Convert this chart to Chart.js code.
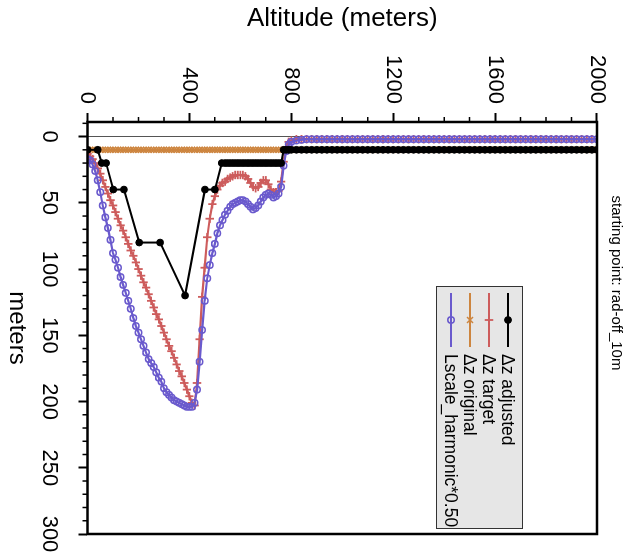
<!DOCTYPE html>
<html>
<head>
<meta charset="utf-8">
<script src="https://cdn.jsdelivr.net/npm/chart.js@4.4.1/dist/chart.umd.min.js"></script>
<style>
  html, body { margin: 0; padding: 0; background: #fff; overflow: hidden; }
  /* the chart is drawn upright and turned a quarter turn clockwise */
  #wrap { position: absolute; left: 0; top: 0; width: 555px; height: 632px;
          transform-origin: 0 0; transform: translate(632px, 0) rotate(90deg); }
</style>
</head>
<body>
<div id="wrap"><canvas id="chart" width="555" height="632"></canvas></div>
<script>
// altitude levels (m) shared by the target / original / Lscale series
const altitude = [
  0, 10, 20, 30, 40, 50, 60, 70, 80, 90,
  100, 110, 120, 130, 140, 150, 160, 170, 180, 190,
  200, 210, 220, 230, 240, 250, 260, 270, 280, 290,
  300, 310, 320, 330, 340, 350, 360, 370, 380, 390,
  400, 410, 420, 430, 440, 450, 460, 470, 480, 490,
  500, 510, 520, 530, 540, 550, 560, 570, 580, 590,
  600, 610, 620, 630, 640, 650, 660, 670, 680, 690,
  700, 710, 720, 730, 740, 750, 760, 770, 780, 790,
  800,
  820, 840, 860, 880, 900, 920, 940, 960, 980, 1000,
  1020, 1040, 1060, 1080, 1100, 1120, 1140, 1160, 1180, 1200,
  1220, 1240, 1260, 1280, 1300, 1320, 1340, 1360, 1380, 1400,
  1420, 1440, 1460, 1480, 1500, 1520, 1540, 1560, 1580, 1600,
  1620, 1640, 1660, 1680, 1700, 1720, 1740, 1760, 1780, 1800,
  1820, 1840, 1860, 1880, 1900, 1920, 1940, 1960, 1980, 2000
];

// Lscale_harmonic*0.50
const lscale = [
  17, 18, 21, 26, 33, 42, 52, 61, 69, 78,
  88, 93, 99, 106, 112, 118, 124, 130, 137, 143,
  148, 153, 158, 163, 168, 171, 174, 178, 182, 185,
  190, 193, 195, 197, 199, 200, 201, 202, 203, 204,
  204, 204, 201, 191, 170, 146, 124, 107, 97, 88,
  81, 73, 67, 63, 59, 56, 53, 51, 50, 49,
  48, 48, 49, 51, 53, 55, 54, 52, 49, 46,
  44, 43, 44, 46, 45, 43, 38, 22, 11, 6,
  4,
  3, 2.5, 2, 2, 2, 2, 2, 2, 2, 2,
  2, 2, 2, 2, 2, 2, 2, 2, 2, 2,
  2, 2, 2, 2, 2, 2, 2, 2, 2, 2,
  2, 2, 2, 2, 2, 2, 2, 2, 2, 2,
  2, 2, 2, 2, 2, 2, 2, 2, 2, 2,
  2, 2, 2, 2, 2, 2, 2, 2, 2, 2
];

// dz target
const dzTarget = [
  13, 15, 17, 20, 24, 28, 33, 38, 43, 48,
  52, 57, 62, 67, 71, 76, 81, 86, 90, 95,
  100, 105, 110, 114, 119, 124, 129, 134, 138, 143,
  148, 153, 158, 162, 167, 172, 177, 181, 186, 191,
  196, 201, 203, 186, 153, 121, 99, 76, 62, 51,
  45, 40, 37, 35, 34, 32, 31, 30, 29, 29,
  29, 29, 30, 32, 35, 38, 39, 38, 35, 33,
  33, 36, 40, 42, 42, 41, 34, 19, 8, 4,
  3,
  2, 2, 2, 2, 2, 2, 2, 2, 2, 2,
  2, 2, 2, 2, 2, 2, 2, 2, 2, 2,
  2, 2, 2, 2, 2, 2, 2, 2, 2, 2,
  2, 2, 2, 2, 2, 2, 2, 2, 2, 2,
  2, 2, 2, 2, 2, 2, 2, 2, 2, 2,
  2, 2, 2, 2, 2, 2, 2, 2, 2, 2
];

// dz original
const dzOriginal = [
  10, 10, 10, 10, 10, 10, 10, 10, 10, 10,
  10, 10, 10, 10, 10, 10, 10, 10, 10, 10,
  10, 10, 10, 10, 10, 10, 10, 10, 10, 10,
  10, 10, 10, 10, 10, 10, 10, 10, 10, 10,
  10, 10, 10, 10, 10, 10, 10, 10, 10, 10,
  10, 10, 10, 10, 10, 10, 10, 10, 10, 10,
  10, 10, 10, 10, 10, 10, 10, 10, 10, 10,
  10, 10, 10, 10, 10, 10, 10, 10, 10, 10,
  10,
  10, 10, 10, 10, 10, 10, 10, 10, 10, 10,
  10, 10, 10, 10, 10, 10, 10, 10, 10, 10,
  10, 10, 10, 10, 10, 10, 10, 10, 10, 10,
  10, 10, 10, 10, 10, 10, 10, 10, 10, 10,
  10, 10, 10, 10, 10, 10, 10, 10, 10, 10,
  10, 10, 10, 10, 10, 10, 10, 10, 10, 10
];

// dz adjusted has its own levels
const adjAltitude = [
  0, 40, 56, 73, 101, 143, 203, 285, 383, 461, 500, 527,
  540, 550, 560, 570, 580, 590, 600, 610, 620, 630, 640, 650,
  660, 670, 680, 690, 700, 710, 720, 730, 740, 750, 760,
  770, 780, 790, 800,
  820, 840, 860, 880, 900, 920, 940, 960, 980, 1000,
  1020, 1040, 1060, 1080, 1100, 1120, 1140, 1160, 1180, 1200,
  1220, 1240, 1260, 1280, 1300, 1320, 1340, 1360, 1380, 1400,
  1420, 1440, 1460, 1480, 1500, 1520, 1540, 1560, 1580, 1600,
  1620, 1640, 1660, 1680, 1700, 1720, 1740, 1760, 1780, 1800,
  1820, 1840, 1860, 1880, 1900, 1920, 1940, 1960, 1980, 2000
];
const dzAdjusted = [
  10, 10, 20, 20, 40, 40, 80, 80, 120, 40, 40, 20,
  20, 20, 20, 20, 20, 20, 20, 20, 20, 20, 20, 20,
  20, 20, 20, 20, 20, 20, 20, 20, 20, 20, 20,
  10, 10, 10, 10,
  10, 10, 10, 10, 10, 10, 10, 10, 10, 10,
  10, 10, 10, 10, 10, 10, 10, 10, 10, 10,
  10, 10, 10, 10, 10, 10, 10, 10, 10, 10,
  10, 10, 10, 10, 10, 10, 10, 10, 10, 10,
  10, 10, 10, 10, 10, 10, 10, 10, 10, 10,
  10, 10, 10, 10, 10, 10, 10, 10, 10, 10
];

const seriesNames = ['\u0394z adjusted', '\u0394z target', '\u0394z original', 'Lscale_harmonic*0.50'];
const titleText = 'starting point: rad-off_10m';

// tick marks
const meterTicks = [0, 50, 100, 150, 200, 250, 300];
const meterMinor = [-10, 10, 20, 30, 40, 60, 70, 80, 90, 110, 120, 130, 140, 160, 170, 180, 190,
                    210, 220, 230, 240, 260, 270, 280, 290];
const altitudeTicks = [0, 400, 800, 1200, 1600, 2000];
const altitudeMinor = [100, 200, 300, 500, 600, 700, 900, 1000, 1100, 1300, 1400, 1500, 1700, 1800, 1900];

const BLUE = '#6a5acd';
const RED = '#cd5c5c';
const ORANGE = '#cd853f';

function toPoints(alts, vals) {
    return alts.map((a, i) => ({ x: vals[i], y: a }));
}

// draws the box legend, frame, minor ticks and the title
const decorPlugin = {
    id: 'decor',
    afterDatasetsDraw(chart) {
        const c = chart.ctx;
        const area = chart.chartArea;
        const xs = chart.scales.x, ys = chart.scales.y;
        c.save();

        // frame
        c.strokeStyle = '#000';
        c.lineWidth = 2.5;
        c.strokeRect(area.left, area.top, area.right - area.left, area.bottom - area.top);

        // minor ticks
        c.lineWidth = 1.5;
        c.beginPath();
        meterMinor.forEach(v => {
            const px = xs.getPixelForValue(v);
            c.moveTo(px, area.bottom);
            c.lineTo(px, area.bottom + 5);
        });
        altitudeMinor.forEach(v => {
            const py = ys.getPixelForValue(v);
            c.moveTo(area.left, py);
            c.lineTo(area.left - 5, py);
        });
        c.stroke();

        // title
        c.fillStyle = '#000';
        c.font = '15px "Liberation Sans", Arial, sans-serif';
        c.textAlign = 'center';
        c.textBaseline = 'middle';
        c.fillText(titleText, 283, 16);

        // legend box
        const bx = 286, by = 109, bw = 242, bh = 86;
        c.fillStyle = '#e6e6e6';
        c.fillRect(bx, by, bw, bh);
        c.strokeStyle = '#333';
        c.lineWidth = 1;
        c.strokeRect(bx + 0.5, by + 0.5, bw, bh);

        c.font = '17.5px "Liberation Sans", Arial, sans-serif';
        c.textAlign = 'left';
        chart.data.datasets.forEach((ds, i) => {
            const y = by + 15 + i * 19;
            c.strokeStyle = ds.borderColor;
            c.lineWidth = 2;
            c.beginPath();
            c.moveTo(bx + 7, y);
            c.lineTo(bx + 61, y);
            c.stroke();
            c.fillStyle = ds.pointBackgroundColor;
            c.strokeStyle = ds.borderColor;
            c.lineWidth = ds.pointBorderWidth;
            Chart.helpers.drawPoint(c, {
                pointStyle: ds.pointStyle, radius: ds.pointRadius,
                borderWidth: ds.pointBorderWidth, rotation: 0
            }, bx + 34, y);
            c.fillStyle = '#000';
            c.fillText(ds.label, bx + 68, y + 1);
        });
        c.restore();
    }
};

const ctx = document.getElementById('chart').getContext('2d');
Chart.defaults.font.family = '"Liberation Sans", Arial, Helvetica, sans-serif';
Chart.defaults.color = '#000';

new Chart(ctx, {
    type: 'line',
    data: {
        datasets: [{
            label: seriesNames[0],
            data: toPoints(adjAltitude, dzAdjusted),
            borderColor: '#000',
            pointBackgroundColor: '#000',
            pointBorderColor: '#000',
            pointStyle: 'circle',
            pointRadius: 3.4,
            pointBorderWidth: 1,
            borderWidth: 2,
            order: 0
        }, {
            label: seriesNames[1],
            data: toPoints(altitude, dzTarget),
            borderColor: RED,
            pointBackgroundColor: RED,
            pointBorderColor: RED,
            pointStyle: 'cross',
            pointRadius: 4.2,
            pointBorderWidth: 1.8,
            borderWidth: 2.2,
            order: 2
        }, {
            label: seriesNames[2],
            data: toPoints(altitude, dzOriginal),
            borderColor: ORANGE,
            pointBackgroundColor: ORANGE,
            pointBorderColor: ORANGE,
            pointStyle: 'crossRot',
            pointRadius: 4.2,
            pointBorderWidth: 1.5,
            borderWidth: 2,
            order: 3
        }, {
            label: seriesNames[3],
            data: toPoints(altitude, lscale),
            borderColor: BLUE,
            pointBackgroundColor: 'rgba(0,0,0,0)',
            pointBorderColor: BLUE,
            pointStyle: 'circle',
            pointRadius: 3.2,
            pointBorderWidth: 1.5,
            borderWidth: 2.2,
            order: 1
        }]
    },
    options: {
        responsive: false,
        animation: false,
        events: [],
        layout: { padding: { left: 0, right: 21, top: 35, bottom: 0 } },
        elements: { line: { tension: 0 } },
        plugins: {
            legend: { display: false },
            tooltip: { enabled: false }
        },
        scales: {
            x: {
                type: 'linear',
                position: 'bottom',
                min: -11,
                max: 300,
                afterBuildTicks: s => { s.ticks = meterTicks.map(v => ({ value: v })); },
                afterFit: s => { s.height = 87.5; s.paddingLeft = 0; s.paddingRight = 0; },
                ticks: { font: { size: 22 }, padding: 16, maxRotation: 0, minRotation: 0, callback: v => String(v) },
                grid: {
                    drawOnChartArea: true,
                    color: g => (g.tick && g.tick.value === 0) ? '#555' : 'rgba(0,0,0,0)',
                    lineWidth: 1,
                    tickLength: 9,
                    tickWidth: 2,
                    tickColor: '#000'
                },
                border: { display: false },
                title: { display: true, text: 'meters', font: { size: 24 }, padding: { top: 0, bottom: 2 } }
            },
            y: {
                type: 'linear',
                position: 'left',
                min: 0,
                max: 2000,
                afterBuildTicks: s => { s.ticks = altitudeTicks.map(v => ({ value: v })); },
                afterFit: s => { s.width = 122; s.paddingTop = 0; s.paddingBottom = 0; },
                ticks: { font: { size: 22 }, padding: 9, callback: v => String(v) },
                grid: {
                    drawOnChartArea: false,
                    tickLength: 9,
                    tickWidth: 2,
                    tickColor: '#000'
                },
                border: { display: false },
                title: { display: true, text: 'Altitude (meters)', font: { size: 26 }, padding: { top: 3, bottom: 0 } }
            }
        }
    },
    plugins: [decorPlugin]
});
</script>
</body>
</html>
